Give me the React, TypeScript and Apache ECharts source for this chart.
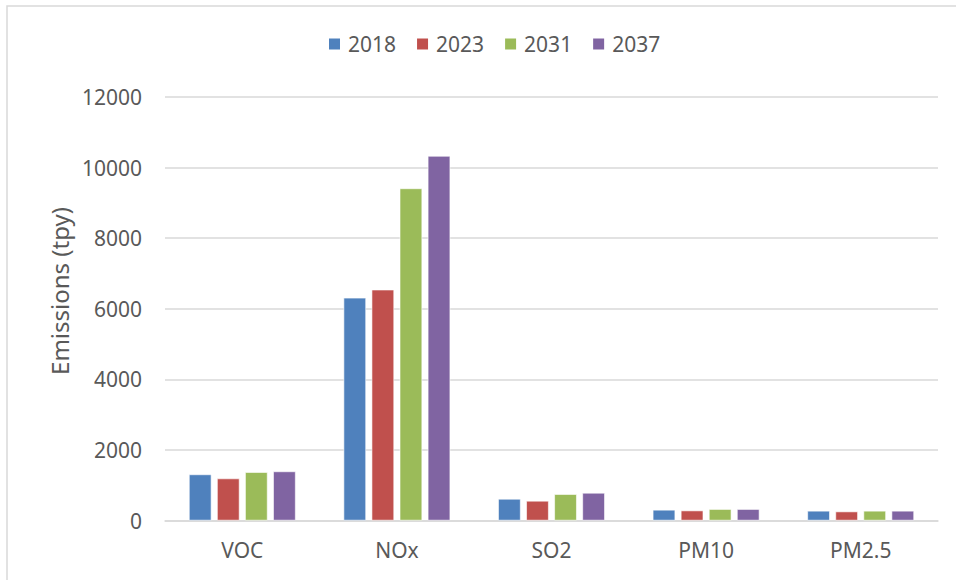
import React, { useEffect, useRef } from "react";
import * as echarts from "echarts";

const categories = ["VOC", "NOx", "SO2", "PM10", "PM2.5"];
const seriesNames = ["2018", "2023", "2031", "2037"];
const values2018 = [1305, 6310, 613, 302, 274];
const values2023 = [1190, 6540, 556, 282, 254];
const values2031 = [1370, 9410, 746, 322, 274];
const values2037 = [1390, 10330, 782, 322, 274];
const colors = ["#4F81BD", "#C0504D", "#9BBB59", "#8064A2"];
const yAxisTitle = "Emissions (tpy)";

const FONT = "Noto Sans";
const TEXT_COLOR = "#595959";

export default function App() {
  const ref = useRef<HTMLDivElement>(null);
  useEffect(() => {
    if (!ref.current) return;
    const chart = echarts.init(ref.current, undefined, { renderer: "svg" });
    const allValues = [values2018, values2023, values2031, values2037];
    chart.setOption({
      animation: false,
      backgroundColor: "#ffffff",
      textStyle: { fontFamily: FONT },
      graphic: [
        {
          type: "rect",
          shape: { x: 7, y: 6, width: 1000, height: 1000 },
          style: { fill: "none", stroke: "#d9d9d9", lineWidth: 1.5 },
          silent: true,
          z: -10,
        },
        {
          type: "text",
          x: 59,
          y: 291,
          rotation: Math.PI / 2,
          style: {
            text: yAxisTitle,
            fontFamily: FONT,
            fontSize: 24,
            fill: TEXT_COLOR,
            align: "center",
            verticalAlign: "middle",
          },
        },
      ],
      legend: {
        data: seriesNames,
        left: 322,
        top: 26,
        itemWidth: 13,
        itemHeight: 13,
        itemGap: 19,
        icon: "rect",
        textStyle: { fontFamily: FONT, fontSize: 21, color: TEXT_COLOR, lineHeight: 26, padding: [0, 0, 0, 2] },
      },
      grid: { left: 165, right: 18, top: 97, bottom: 59.5 },
      xAxis: {
        type: "category",
        data: categories,
        axisLine: { show: true, lineStyle: { color: "#d9d9d9", width: 1.5 } },
        axisTick: { show: false },
        axisLabel: { fontFamily: FONT, fontSize: 21, color: TEXT_COLOR, margin: 19 },
      },
      yAxis: {
        type: "value",
        min: 0,
        max: 12000,
        interval: 2000,
        axisLine: { show: false },
        axisTick: { show: false },
        axisLabel: {
          fontFamily: FONT,
          fontSize: 21,
          color: TEXT_COLOR,
          margin: 23,
          formatter: (v: number) => String(v),
        },
        splitLine: { lineStyle: { color: "#d9d9d9", width: 1.5 } },
      },
      series: seriesNames.map((name, i) => ({
        name,
        type: "bar",
        data: allValues[i],
        barGap: "25%",
        barCategoryGap: "31%",
        itemStyle: { color: colors[i], borderColor: "#ffffff", borderWidth: 0.6 },
      })),
    });
    return () => chart.dispose();
  }, []);
  return (
    <div
      ref={ref}
      style={{ position: "fixed", left: 0, top: 0, width: 956, height: 580 }}
    />
  );
}
